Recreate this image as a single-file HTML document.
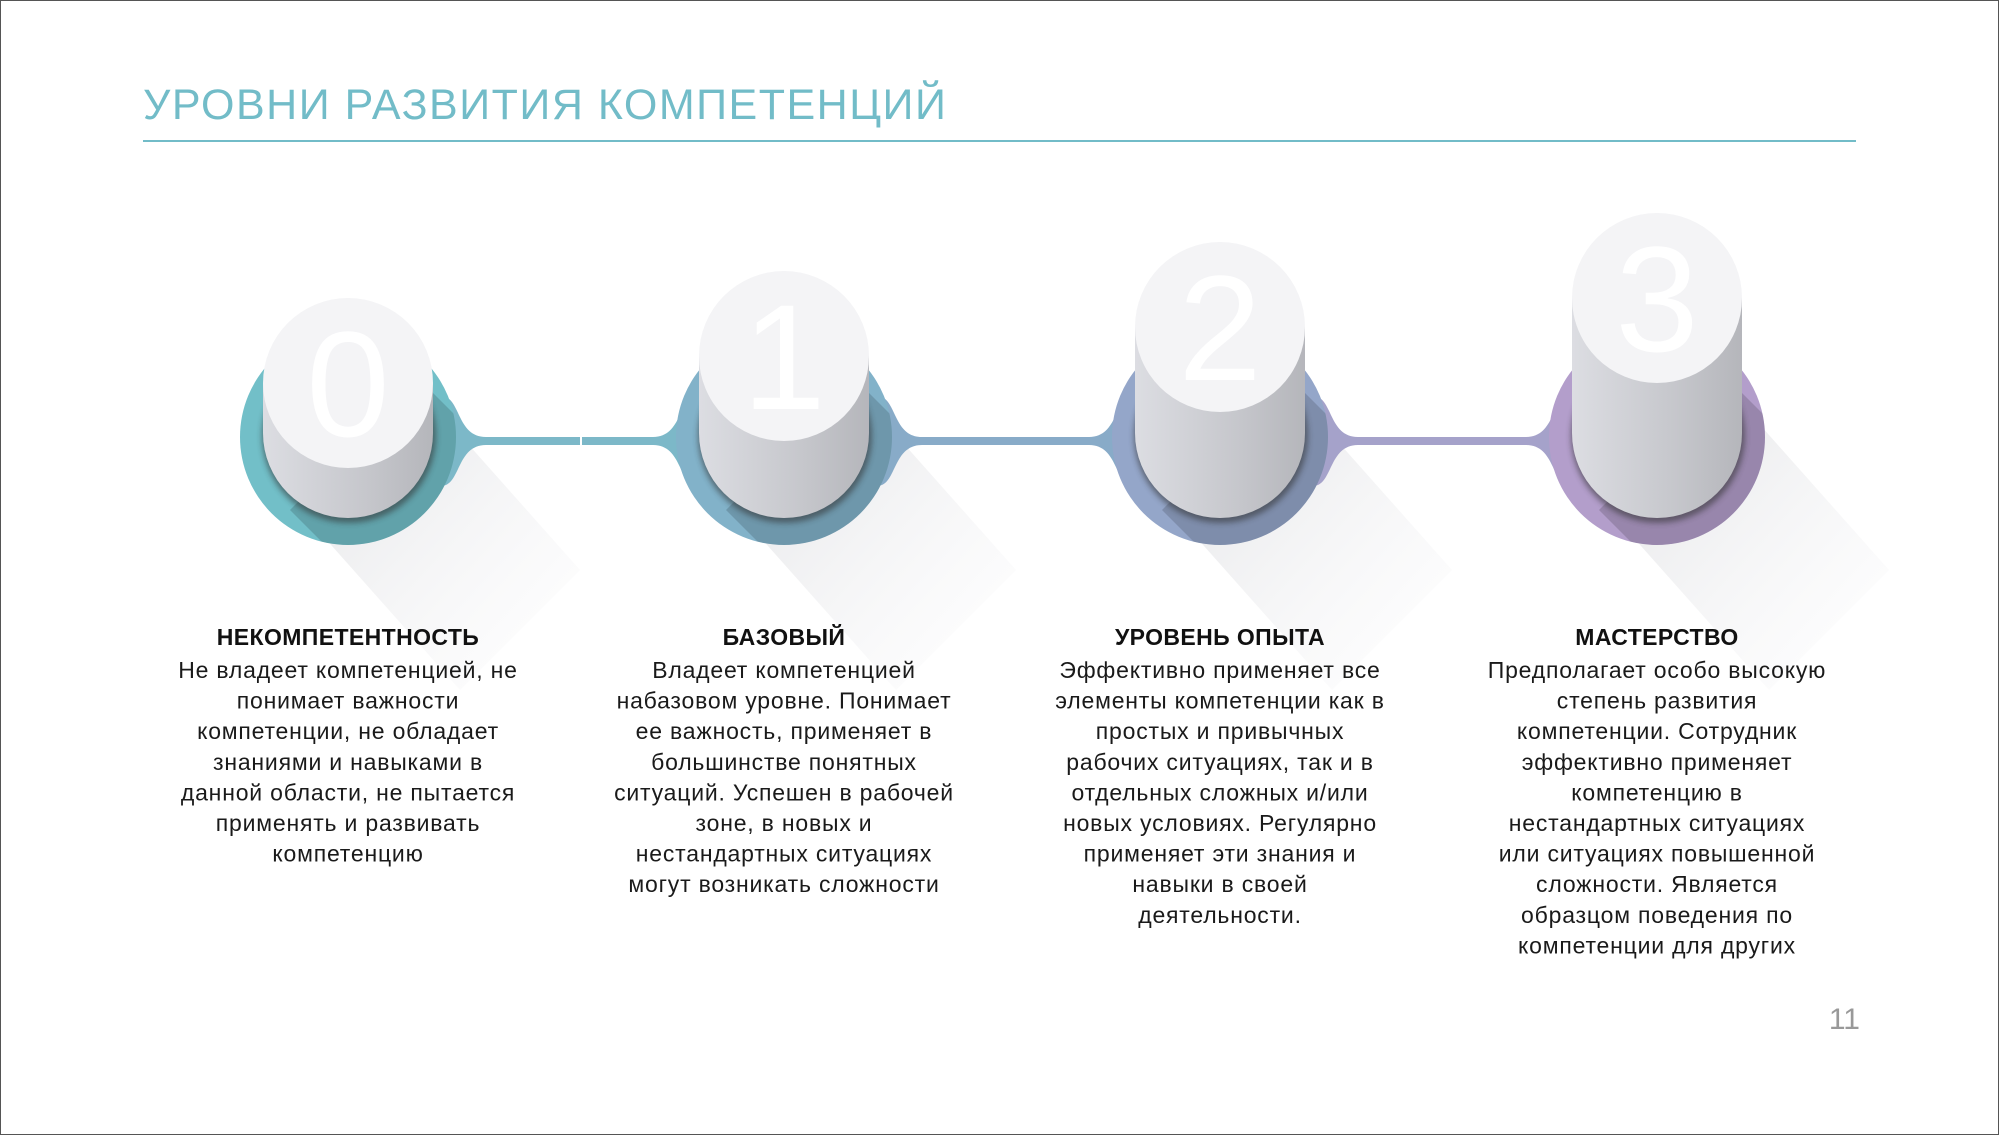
<!DOCTYPE html>
<html><head><meta charset="utf-8"><style>
html,body{margin:0;padding:0;background:#fff}
svg{display:block}
.t{font-family:"Liberation Sans",sans-serif;font-size:23px;fill:#1a1a1a;text-anchor:middle;letter-spacing:0.8px}
.h{font-family:"Liberation Sans",sans-serif;font-size:23px;font-weight:bold;fill:#111;text-anchor:middle;letter-spacing:0.4px}
.n{font-family:"Liberation Sans",sans-serif;font-size:150px;fill:#fff;text-anchor:middle;font-weight:normal}
</style></head><body>
<svg width="1999" height="1135" viewBox="0 0 1999 1135" xmlns="http://www.w3.org/2000/svg">
<defs>
<linearGradient id="body" x1="0" x2="1" y1="0" y2="0">
<stop offset="0" stop-color="#dcdde2"/><stop offset="0.6" stop-color="#c6c7cc"/><stop offset="1" stop-color="#b5b6bb"/></linearGradient>
<linearGradient id="sh" x1="0" y1="0" x2="1" y2="1">
<stop offset="0" stop-color="#d8d9dc" stop-opacity="0.8"/><stop offset="0.8" stop-color="#f4f4f6" stop-opacity="0.3"/><stop offset="1" stop-color="#ffffff" stop-opacity="0"/></linearGradient>
<filter id="blur" x="-20%" y="-20%" width="140%" height="140%"><feGaussianBlur stdDeviation="3"/></filter>
<clipPath id="c0"><circle cx="348" cy="437" r="108"/></clipPath>
<clipPath id="c1"><circle cx="784" cy="437" r="108"/></clipPath>
<clipPath id="c2"><circle cx="1220" cy="437" r="108"/></clipPath>
<clipPath id="c3"><circle cx="1657" cy="437" r="108"/></clipPath>
</defs>
<rect x="0.5" y="0.5" width="1998" height="1134" fill="#fff" stroke="#555" stroke-width="1"/>
<text x="143" y="119" font-family="Liberation Sans, sans-serif" font-size="43" fill="#72bcc8" letter-spacing="1.5">УРОВНИ РАЗВИТИЯ КОМПЕТЕНЦИЙ</text>
<rect x="143" y="140" width="1713" height="2" fill="#72bcc8"/>

<!-- long shadows -->
<g>
<polygon points="300,510 420,390 580,570 460,690" fill="url(#sh)"/>
<polygon points="736,510 856,390 1016,570 896,690" fill="url(#sh)"/>
<polygon points="1172,510 1292,390 1452,570 1332,690" fill="url(#sh)"/>
<polygon points="1609,510 1729,390 1889,570 1769,690" fill="url(#sh)"/>
</g>

<!-- connectors -->
<path d="M441,396 C461,396 456,437 486,437 L653,437 C683,437 678,396 698,396 L698,486 C678,486 683,445 653,445 L486,445 C456,445 461,486 441,486 Z" fill="#7cb8c8"/>
<path d="M877,396 C897,396 892,437 922,437 L1089,437 C1119,437 1114,396 1134,396 L1134,486 C1114,486 1119,445 1089,445 L922,445 C892,445 897,486 877,486 Z" fill="#88abc8"/>
<path d="M1313,396 C1333,396 1328,437 1358,437 L1526,437 C1556,437 1551,396 1571,396 L1571,486 C1551,486 1556,445 1526,445 L1358,445 C1328,445 1333,486 1313,486 Z" fill="#a5a2ca"/>
<rect x="580" y="437" width="2" height="8" fill="#fff"/>

<!-- circles -->
<circle cx="348" cy="437" r="108" fill="#72bfc8"/>
<circle cx="784" cy="437" r="108" fill="#82b2c9"/>
<circle cx="1220" cy="437" r="108" fill="#94a6c9"/>
<circle cx="1657" cy="437" r="108" fill="#b39ecb"/>
<g opacity="0.15" fill="#000">
<polygon clip-path="url(#c0)" points="290,510 420,380 560,520 430,650"/>
<polygon clip-path="url(#c1)" points="726,510 856,380 996,520 866,650"/>
<polygon clip-path="url(#c2)" points="1162,510 1292,380 1432,520 1302,650"/>
<polygon clip-path="url(#c3)" points="1599,510 1729,380 1869,520 1739,650"/>
</g>

<!-- cylinders -->
<g>
<circle cx="349" cy="436" r="87" fill="#333" opacity="0.55" filter="url(#blur)"/>
<path d="M263,383 L433,383 L433,433 A85,85 0 0 1 263,433 Z" fill="url(#body)"/>
<circle cx="348" cy="383" r="85" fill="#f4f4f6"/>
<text class="n" x="348" y="436">0</text>

<circle cx="785" cy="436" r="87" fill="#333" opacity="0.55" filter="url(#blur)"/>
<path d="M699,356 L869,356 L869,433 A85,85 0 0 1 699,433 Z" fill="url(#body)"/>
<circle cx="784" cy="356" r="85" fill="#f4f4f6"/>
<text class="n" x="784" y="409">1</text>

<circle cx="1221" cy="436" r="87" fill="#333" opacity="0.55" filter="url(#blur)"/>
<path d="M1135,327 L1305,327 L1305,433 A85,85 0 0 1 1135,433 Z" fill="url(#body)"/>
<circle cx="1220" cy="327" r="85" fill="#f4f4f6"/>
<text class="n" x="1220" y="380">2</text>

<circle cx="1658" cy="436" r="87" fill="#333" opacity="0.55" filter="url(#blur)"/>
<path d="M1572,298 L1742,298 L1742,433 A85,85 0 0 1 1572,433 Z" fill="url(#body)"/>
<circle cx="1657" cy="298" r="85" fill="#f4f4f6"/>
<text class="n" x="1657" y="351">3</text>
</g>

<!-- texts -->
<text class="h" x="348" y="645">НЕКОМПЕТЕНТНОСТЬ</text>
<text class="t" x="348" y="678">Не владеет компетенцией, не</text>
<text class="t" x="348" y="708.6">понимает важности</text>
<text class="t" x="348" y="739.2">компетенции, не обладает</text>
<text class="t" x="348" y="769.8">знаниями и навыками в</text>
<text class="t" x="348" y="800.4">данной области, не пытается</text>
<text class="t" x="348" y="831">применять и развивать</text>
<text class="t" x="348" y="861.6">компетенцию</text>

<text class="h" x="784" y="645">БАЗОВЫЙ</text>
<text class="t" x="784" y="678">Владеет компетенцией</text>
<text class="t" x="784" y="708.6">набазовом уровне. Понимает</text>
<text class="t" x="784" y="739.2">ее важность, применяет в</text>
<text class="t" x="784" y="769.8">большинстве понятных</text>
<text class="t" x="784" y="800.4">ситуаций. Успешен в рабочей</text>
<text class="t" x="784" y="831">зоне, в новых и</text>
<text class="t" x="784" y="861.6">нестандартных ситуациях</text>
<text class="t" x="784" y="892.2">могут возникать сложности</text>

<text class="h" x="1220" y="645">УРОВЕНЬ ОПЫТА</text>
<text class="t" x="1220" y="678">Эффективно применяет все</text>
<text class="t" x="1220" y="708.6">элементы компетенции как в</text>
<text class="t" x="1220" y="739.2">простых и привычных</text>
<text class="t" x="1220" y="769.8">рабочих ситуациях, так и в</text>
<text class="t" x="1220" y="800.4">отдельных сложных и/или</text>
<text class="t" x="1220" y="831">новых условиях. Регулярно</text>
<text class="t" x="1220" y="861.6">применяет эти знания и</text>
<text class="t" x="1220" y="892.2">навыки в своей</text>
<text class="t" x="1220" y="922.8">деятельности.</text>

<text class="h" x="1657" y="645">МАСТЕРСТВО</text>
<text class="t" x="1657" y="678">Предполагает особо высокую</text>
<text class="t" x="1657" y="708.6">степень развития</text>
<text class="t" x="1657" y="739.2">компетенции. Сотрудник</text>
<text class="t" x="1657" y="769.8">эффективно применяет</text>
<text class="t" x="1657" y="800.4">компетенцию в</text>
<text class="t" x="1657" y="831">нестандартных ситуациях</text>
<text class="t" x="1657" y="861.6">или ситуациях повышенной</text>
<text class="t" x="1657" y="892.2">сложности. Является</text>
<text class="t" x="1657" y="922.8">образцом поведения по</text>
<text class="t" x="1657" y="953.4">компетенции для других</text>

<text x="1860" y="1029" font-family="Liberation Sans, sans-serif" font-size="30" fill="#999" text-anchor="end">11</text>
</svg>
</body></html>
